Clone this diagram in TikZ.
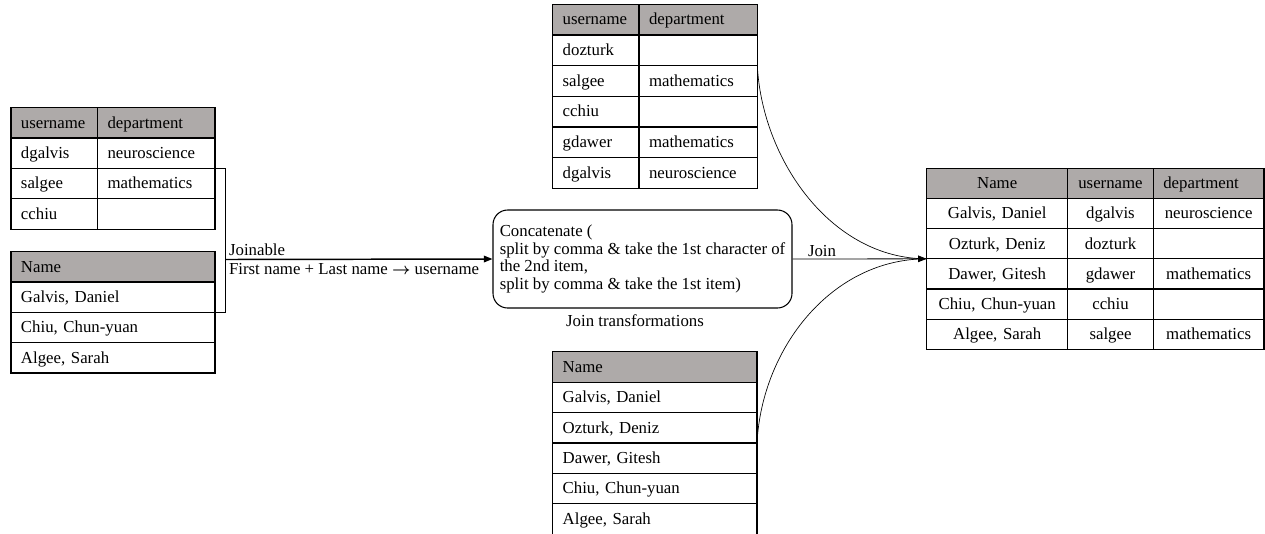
\documentclass[tikz,border=0pt]{standalone}
\usepackage{amsmath,amssymb}
\usepackage{fontspec}
\setmainfont{Liberation Serif}
\usepackage{tikz}
\usetikzlibrary{positioning,arrows.meta}
\definecolor{hdrgray}{RGB}{174,170,169}

\begin{document}
\begin{tikzpicture}[x=0.75pt, y=-0.75pt,
  font=\fontsize{12.6pt}{13.2pt}\selectfont,
  >={Triangle[length=6.5pt,width=5pt]},
  cell/.code 2 args={%
    \pgfmathsetlengthmacro\cellw{#1*0.75pt-15pt}%
    \pgfmathsetlengthmacro\cellh{#2*0.75pt}%
    \edef\cellopts{\noexpand\tikzset{text width=\cellw, minimum height=\cellh}}\cellopts
    \tikzset{draw, line width=0.9pt, anchor=north west, outer sep=0pt,
      inner xsep=7.5pt, inner ysep=1pt, text height=10pt, text depth=2pt}},
  lcell/.style 2 args={cell={#1}{#2}, align=left},
  ccell/.style 2 args={cell={#1}{#2}, align=center},
  head/.style={fill=hdrgray},
  procbox/.style={draw, line width=0.8pt, rounded corners=11pt,
    minimum width=224.25pt, minimum height=73.5pt, inner xsep=4.5pt, align=left}]
\useasboundingbox (0,0) rectangle (1265,533);
\clip (0,0) rectangle (1265,533);

%% Left: usernames and departments
\node[lcell={86.5}{30.4}, head] (lu-1-1) at (11,107.5) {username};
\node[lcell={117.5}{30.4}, head] (lu-1-2) at (97.5,107.5) {department};
\foreach \u/\d [count=\i from 2] in {dgalvis/neuroscience, salgee/mathematics, cchiu/{}}{
  \node[lcell={86.5}{30.4}] (lu-\i-1) at (11,{107.5+30.4*(\i-1)}) {\u};
  \node[lcell={117.5}{30.4}] (lu-\i-2) at (97.5,{107.5+30.4*(\i-1)}) {\d};
}

%% Left: names
\node[lcell={204}{30.3}, head] (ln-1-1) at (11,251.7) {Name};
\foreach \n [count=\i from 2] in {{Galvis, Daniel}, {Chiu, Chun-yuan}, {Algee, Sarah}}{
  \node[lcell={204}{30.3}] (ln-\i-1) at (11,{251.7+30.3*(\i-1)}) {\n};
}

%% Joinable pair
\coordinate (brk) at (225.7,259.5);
\draw[line width=0.7pt] (lu-3-2.north east) -| (brk) |- (ln-2-1.south east);

%% Transformation
\node[procbox] (conc) at (642.5,259) {Concatenate (\\
split by comma \& take the 1st character of\\
the 2nd item,\\
split by comma \& take the 1st item)};
\node (jt) [below=1pt of conc, xshift=-5.6pt] {Join transformations};

\draw[->, line width=1.1pt] (brk) --
  node[pos=0, above right, inner sep=2pt] (jl) {Joinable}
  node[pos=0, below right, inner sep=2pt] (fl) {First name + Last name $\boldsymbol{\rightarrow}$ username}
  (conc.west);

%% Middle top: usernames and departments
\node[lcell={86.3}{30.65}, head] (mu-1-1) at (552.7,4.3) {username};
\node[lcell={118.3}{30.65}, head] (mu-1-2) at (639,4.3) {department};
\foreach \u/\d [count=\i from 2] in {dozturk/{}, salgee/mathematics, cchiu/{}, gdawer/mathematics, dgalvis/neuroscience}{
  \node[lcell={86.3}{30.65}] (mu-\i-1) at (552.7,{4.3+30.65*(\i-1)}) {\u};
  \node[lcell={118.3}{30.65}] (mu-\i-2) at (639,{4.3+30.65*(\i-1)}) {\d};
}

%% Middle bottom: names
\node[lcell={204.3}{30.4}, head] (mn-1-1) at (552.7,351.7) {Name};
\foreach \n [count=\i from 2] in {{Galvis, Daniel}, {Ozturk, Deniz}, {Dawer, Gitesh}, {Chiu, Chun-yuan}, {Algee, Sarah}}{
  \node[lcell={204.3}{30.4}] (mn-\i-1) at (552.7,{351.7+30.4*(\i-1)}) {\n};
}

%% Right: joined result
\node[ccell={141}{30.17}, head] (rj-1-1) at (926.7,168.3) {Name};
\node[ccell={85.6}{30.17}, head] (rj-1-2) at (1067.7,168.3) {username};
\node[lcell={110.7}{30.17}, head] (rj-1-3) at (1153.3,168.3) {department};
\foreach \n/\u/\d [count=\i from 2] in {{Galvis, Daniel}/dgalvis/neuroscience, {Ozturk, Deniz}/dozturk/{}, {Dawer, Gitesh}/gdawer/mathematics, {Chiu, Chun-yuan}/cchiu/{}, {Algee, Sarah}/salgee/mathematics}{
  \node[ccell={141}{30.17}] (rj-\i-1) at (926.7,{168.3+30.17*(\i-1)}) {\n};
  \node[ccell={85.6}{30.17}] (rj-\i-2) at (1067.7,{168.3+30.17*(\i-1)}) {\u};
  \node[ccell={110.7}{30.17}] (rj-\i-3) at (1153.3,{168.3+30.17*(\i-1)}) {\d};
}

%% Join
\draw[line width=0.5pt] (mu-3-2.north east) .. controls +(5,95) and +(-95,0) .. (rj-3-1.south west);
\draw[line width=0.5pt] (mn-3-1.south east) .. controls +(5,-95) and +(-95,0) .. (rj-3-1.south west);
\draw[->, line width=0.6pt] (conc.east) -- node[above, pos=0.22, inner sep=1.5pt] (jo) {Join} (rj-3-1.south west);
\end{tikzpicture}
\end{document}
